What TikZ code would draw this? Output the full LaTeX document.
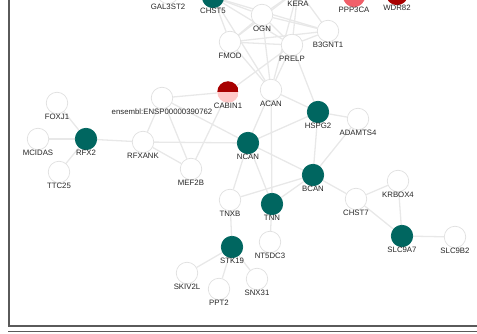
\documentclass[tikz,border=0pt]{standalone}
\usepackage{fontspec}
\setmainfont{Liberation Sans}
\usetikzlibrary{backgrounds}

\definecolor{cteal}{HTML}{006660}
\definecolor{cdred}{HTML}{A80000}
\definecolor{cpink}{HTML}{FFC8C8}
\definecolor{csalmon}{HTML}{F0606A}
\definecolor{cedge}{HTML}{E8E8E8}
\definecolor{cring}{HTML}{E0E0E0}
\definecolor{cframe}{HTML}{5A5A5A}

\begin{document}
\begin{tikzpicture}[x=1pt, y=-1pt,
    gene/.style={circle, minimum size=21.5pt, inner sep=0pt, draw=cring, fill=white,
        line width=0.7pt, label distance=3.4pt, label={[glbl]below:#1}},
    hit/.style={gene={#1}, fill=cteal, draw=cteal},
    glbl/.style={font=\fontsize{7.8}{8}\selectfont, text=black!85, inner sep=0pt},
    link/.style={cedge, line width=1.3pt},
    frame/.style={cframe, line width=1.6pt},
]
\clip (0,0) rectangle (477,334);
\useasboundingbox (0,0) rectangle (477,334);

% --- Genes (top row, partly cut off) ---
\node[gene=GAL3ST2] (gal3st2) at (168,-7) {};
\node[hit=CHST5] (chst5) at (213,-3) {};
\node[gene=KERA] (kera) at (298,-10) {};
\node[gene=PPP3CA, fill=csalmon, draw=csalmon] (ppp3ca) at (354,-4) {};
\node[gene=WDR82, fill=cdred, draw=cdred] (wdr82) at (397,-6) {};

% --- Matrix cluster ---
\node[gene=OGN] (ogn) at (262,15) {};
\node[gene=FMOD] (fmod) at (230,42) {};
\node[gene=B3GNT1] (b3gnt1) at (328,31) {};
\node[gene=PRELP] (prelp) at (292,45) {};
\node[gene=CABIN1, fill=none, draw=none,
    path picture={
        \fill[cdred] (path picture bounding box.west) rectangle (path picture bounding box.north east);
        \fill[cpink] (path picture bounding box.west) rectangle (path picture bounding box.south east);
    }] (cabin1) at (228,92) {};
\node[gene=ACAN] (acan) at (271,90) {};
\node[gene={ensembl:ENSP00000390762}] (ensembl) at (162,98) {};
\node[hit=HSPG2] (hspg2) at (318,112) {};
\node[gene=ADAMTS4] (adamts4) at (358,119) {};
\node[hit=NCAN] (ncan) at (248,143) {};
\node[hit=BCAN] (bcan) at (313,175) {};

% --- RFX2 group ---
\node[gene=FOXJ1] (foxj1) at (57,103) {};
\node[gene=MCIDAS] (mcidas) at (38,139) {};
\node[hit=RFX2] (rfx2) at (86,139) {};
\node[gene=TTC25] (ttc25) at (59,172) {};
\node[gene=RFXANK] (rfxank) at (143,142) {};
\node[gene=MEF2B] (mef2b) at (191,169) {};

% --- Lower part ---
\node[gene=KRBOX4] (krbox4) at (398,181) {};
\node[gene=CHST7] (chst7) at (356,199) {};
\node[gene=TNXB] (tnxb) at (230,200) {};
\node[hit=TNN] (tnn) at (272,204) {};
\node[hit=SLC9A7] (slc9a7) at (402,236) {};
\node[gene=SLC9B2] (slc9b2) at (455,237) {};
\node[hit=STK19] (stk19) at (232,247) {};
\node[gene=NT5DC3] (nt5dc3) at (270,242) {};
\node[gene=SKIV2L] (skiv2l) at (187,273) {};
\node[gene=PPT2] (ppt2) at (219,289) {};
\node[gene=SNX31] (snx31) at (257,279) {};

% --- Interactions ---
\begin{scope}[on background layer]
\foreach \a/\b in {chst5/ogn, chst5/fmod, chst5/prelp, chst5/kera, chst5/acan, chst5/b3gnt1,
    ogn/fmod, ogn/prelp, ogn/kera, ogn/b3gnt1, ogn/acan,
    fmod/prelp, fmod/kera, fmod/acan, fmod/b3gnt1,
    prelp/kera, prelp/b3gnt1, prelp/acan, kera/b3gnt1, kera/acan,
    cabin1/prelp, cabin1/mef2b, cabin1/ensembl,
    ensembl/rfxank, ensembl/mef2b, ensembl/ncan,
    rfx2/foxj1, rfx2/mcidas, rfx2/ttc25, rfx2/rfxank,
    rfxank/ncan, rfxank/mef2b,
    acan/ncan, acan/hspg2, acan/tnn, prelp/hspg2,
    ncan/hspg2, ncan/bcan, ncan/tnxb, ncan/tnn,
    hspg2/adamts4, hspg2/bcan, adamts4/bcan,
    bcan/tnn, bcan/tnxb, bcan/chst7,
    chst7/krbox4, chst7/slc9a7, krbox4/slc9a7, slc9a7/slc9b2,
    tnn/nt5dc3, tnxb/stk19, stk19/skiv2l, stk19/ppt2, stk19/snx31} {
    \draw[link] (\a) -- (\b);
}
\end{scope}

% Panel border
\draw[frame] (9,0) -- (9,326) -- (478,326);
\draw[frame] (8,331.5) -- (478,331.5);

\end{tikzpicture}
\end{document}
